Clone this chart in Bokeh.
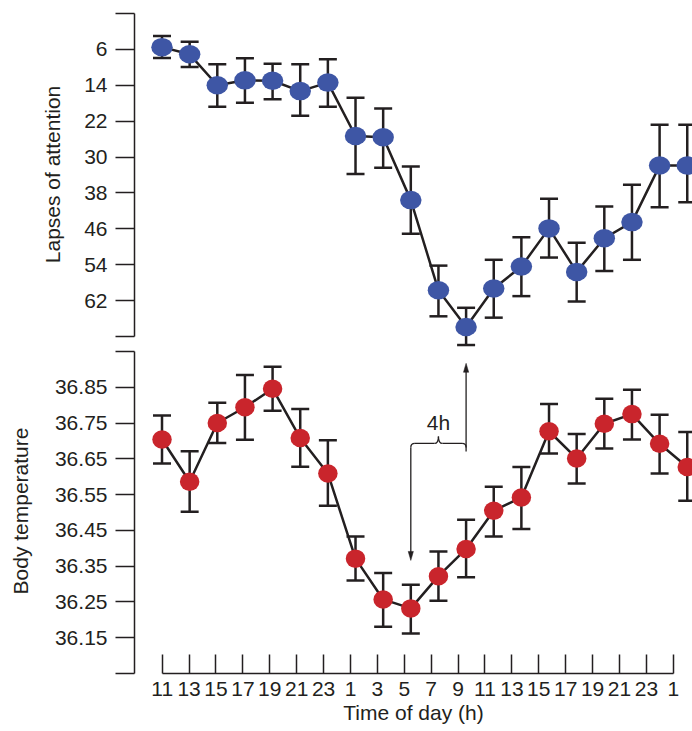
import numpy as np
from bokeh.plotting import figure
from bokeh.layouts import column
from bokeh.models import ColumnDataSource, Range1d, LinearAxis, FixedTicker, Whisker, TeeHead
from bokeh.embed import file_html
from bokeh.resources import INLINE
from bokeh.core.properties import value

# ---------------- data ----------------
hours = [11, 13, 15, 17, 19, 21, 23, 1, 3, 5, 7, 9, 11, 13, 15, 17, 19, 21, 23, 1]

lapses = [5.5, 7.1, 14.0, 12.9, 13.0, 15.3, 13.4, 25.3, 25.6, 39.6,
          59.7, 67.9, 59.3, 54.4, 45.9, 55.6, 48.1, 44.5, 31.9, 31.9]
lapses_err_top = [3.0, 4.3, 9.3, 8.0, 9.2, 9.3, 8.2, 16.8, 19.2, 32.1,
                  54.2, 63.6, 52.9, 47.9, 39.3, 49.1, 41.0, 36.2, 22.8, 22.8]
lapses_err_bottom = [7.9, 9.9, 18.8, 17.9, 17.1, 20.8, 18.8, 33.8, 32.4, 47.1,
                     65.5, 71.9, 65.8, 61.0, 52.4, 62.2, 55.4, 52.9, 41.2, 40.1]

temp = [36.704, 36.586, 36.750, 36.794, 36.846, 36.708, 36.609, 36.371, 36.257, 36.232,
        36.322, 36.398, 36.505, 36.542, 36.727, 36.651, 36.748, 36.775, 36.692, 36.627]
temp_lo = [36.637, 36.502, 36.694, 36.703, 36.784, 36.628, 36.519, 36.310, 36.181, 36.162,
           36.253, 36.319, 36.433, 36.454, 36.665, 36.581, 36.679, 36.704, 36.609, 36.533]
temp_hi = [36.771, 36.671, 36.807, 36.884, 36.907, 36.789, 36.702, 36.433, 36.331, 36.298,
           36.391, 36.480, 36.572, 36.627, 36.803, 36.719, 36.818, 36.843, 36.773, 36.725]

lapse_ticks = [-2, 6, 14, 22, 30, 38, 46, 54, 62, 70]
lapse_tick_labels = ["", "6", "14", "22", "30", "38", "46", "54", "62", ""]
temp_ticks = [36.05, 36.15, 36.25, 36.35, 36.45, 36.55, 36.65, 36.75, 36.85, 36.95]
temp_tick_labels = ["", "36.15", "36.25", "36.35", "36.45", "36.55", "36.65", "36.75", "36.85", ""]

# ---------------- style ----------------
INK = "#231f20"
BLUE = "#3e56a5"
RED = "#c9252c"
FONT = "Liberation Sans"
FS = "21px"
W = 692
LEFT = 134

idx = list(range(len(hours)))
x_range = Range1d(-0.995, 19.19)


def style_axis(ax, label_standoff):
    ax.axis_line_color = INK
    ax.axis_line_width = 1.5
    ax.major_tick_line_color = INK
    ax.major_tick_line_width = 1.5
    ax.minor_tick_line_color = None
    ax.major_label_text_font = FONT
    ax.major_label_text_font_size = FS
    ax.major_label_text_color = INK
    ax.axis_label_text_font = FONT
    ax.axis_label_text_font_size = FS
    ax.axis_label_text_color = INK
    ax.axis_label_text_font_style = "normal"
    ax.axis_label_standoff = label_standoff


def new_fig(height, y_range, bottom):
    p = figure(width=W, height=height, x_range=x_range, y_range=y_range,
               x_axis_type=None, y_axis_type=None, output_backend="svg",
               toolbar_location=None, min_border_left=LEFT, min_border_right=0,
               min_border_top=0, min_border_bottom=bottom)
    p.outline_line_color = None
    p.background_fill_color = "white"
    p.border_fill_color = "white"
    return p


# ---------------- top panel: lapses ----------------
p1 = new_fig(348, Range1d(72.675, -4.898), 0)
ay1 = LinearAxis(ticker=FixedTicker(ticks=lapse_ticks), bounds=(-2, 70),
                 major_label_overrides=dict(zip(lapse_ticks, lapse_tick_labels)),
                 axis_label="Lapses of attention", major_tick_out=19, major_tick_in=0,
                 major_label_standoff=8)
style_axis(ay1, 17)
p1.add_layout(ay1, "left")

src1 = ColumnDataSource(dict(x=idx, y=lapses, a=lapses_err_top, b=lapses_err_bottom))
w1 = Whisker(source=src1, base="x", lower="a", upper="b", line_color=INK, line_width=2.5,
             upper_head=TeeHead(size=18, line_color=INK, line_width=2.5),
             lower_head=TeeHead(size=18, line_color=INK, line_width=2.5), level="underlay")
p1.add_layout(w1)
p1.line("x", "y", source=src1, line_color=INK, line_width=2.5)
p1.ellipse("x", "y", width=21.5, height=18.5, width_units="screen", height_units="screen",
           fill_color=BLUE, line_color=None, source=src1)

# ---------------- bottom panel: temperature ----------------
p2 = new_fig(383, Range1d(36.05, 36.9583), 58)
ay2 = LinearAxis(ticker=FixedTicker(ticks=temp_ticks), bounds=(36.05, 36.95),
                 major_label_overrides=dict(zip(temp_ticks, temp_tick_labels)),
                 axis_label="Body temperature", major_tick_out=19, major_tick_in=0,
                 major_label_standoff=8)
style_axis(ay2, 20)
p2.add_layout(ay2, "left")

p2.extra_x_ranges = {"ticks": Range1d(-1.0297, 19.714)}
ax2 = LinearAxis(x_range_name="ticks", ticker=FixedTicker(ticks=idx), bounds=(0, len(idx) - 1),
                 major_label_overrides={i: str(h) for i, h in zip(idx, hours)},
                 axis_label="Time of day (h)", major_tick_in=19, major_tick_out=0,
                 major_label_standoff=8)
style_axis(ax2, 2)
p2.add_layout(ax2, "below")

src2 = ColumnDataSource(dict(x=idx, y=temp, lo=temp_lo, hi=temp_hi))
w2 = Whisker(source=src2, base="x", lower="lo", upper="hi", line_color=INK, line_width=2.5,
             upper_head=TeeHead(size=18, line_color=INK, line_width=2.5),
             lower_head=TeeHead(size=18, line_color=INK, line_width=2.5), level="underlay")
p2.add_layout(w2)
p2.line("x", "y", source=src2, line_color=INK, line_width=2.5)
p2.ellipse("x", "y", width=19.5, height=18.5, width_units="screen", height_units="screen",
           fill_color=RED, line_color=None, source=src2)

# ---------------- phase-lag annotation ----------------
i_down = int(np.argmin(temp))      # temperature minimum
i_up = int(np.argmax(lapses))      # worst performance
lag_h = (i_up - i_down) * 2
mid = (i_down + i_up) / 2
PX = 1 / 27.64   # index units per screen px
PY = 1 / 357.8   # degrees per screen px
yb = 36.693      # brace level
tip_down = 36.366
tip_up = 36.917
ALW = 1.3

# vertical arrow shafts
p2.segment(x0=[i_down, i_up], y0=[yb - 4 * PY, yb - 8 * PY],
           x1=[i_down, i_up], y1=[tip_down + 6 * PY, tip_up - 6 * PY],
           line_color=INK, line_width=ALW)
# arrow heads
p2.patches(xs=[[i_down, i_down - 2.6 * PX, i_down + 2.6 * PX],
               [i_up, i_up - 2.6 * PX, i_up + 2.6 * PX]],
           ys=[[tip_down, tip_down + 9 * PY, tip_down + 9 * PY],
               [tip_up, tip_up - 9 * PY, tip_up - 9 * PY]],
           fill_color=INK, line_color=INK, line_width=0.5)
# brace
p2.quadratic(x0=[i_down, mid - 4 * PX, mid, i_up - 4 * PX],
             y0=[yb - 4 * PY, yb, yb + 7 * PY, yb],
             x1=[i_down + 4 * PX, mid, mid + 4 * PX, i_up],
             y1=[yb, yb + 7 * PY, yb, yb - 4 * PY],
             cx=[i_down, mid, mid, i_up],
             cy=[yb, yb, yb, yb],
             line_color=INK, line_width=ALW)
p2.segment(x0=[i_down + 4 * PX, mid + 4 * PX], y0=[yb, yb],
           x1=[mid - 4 * PX, i_up - 4 * PX], y1=[yb, yb],
           line_color=INK, line_width=ALW)
p2.text(x=[mid], y=[36.7507], text=[f"{lag_h}h"], text_align="center",
        text_baseline="middle", text_font=value(FONT), text_font_size=FS,
        text_color=INK)

layout = column(p1, p2, spacing=0)
open("out.html", "w").write(file_html(layout, INLINE))
